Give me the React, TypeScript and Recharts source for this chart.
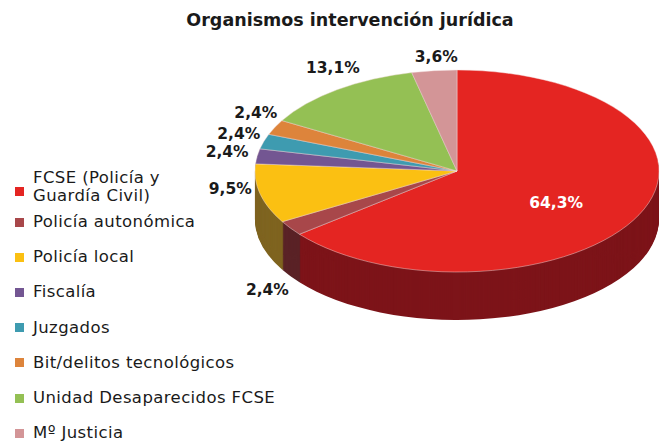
import React from 'react';
import { PieChart, Pie, Cell } from 'recharts';

const categories = [
  'FCSE (Policía y Guardía Civil)',
  'Policía autonómica',
  'Policía local',
  'Fiscalía',
  'Juzgados',
  'Bit/delitos tecnológicos',
  'Unidad Desaparecidos FCSE',
  'Mº Justicia',
];
const legendLines = [
  ['FCSE (Policía y', 'Guardía Civil)'],
  ['Policía autonómica'],
  ['Policía local'],
  ['Fiscalía'],
  ['Juzgados'],
  ['Bit/delitos tecnológicos'],
  ['Unidad Desaparecidos FCSE'],
  ['Mº Justicia'],
];
const values = [64.3, 2.4, 9.5, 2.4, 2.4, 2.4, 13.1, 3.6];
const valueLabels = ['64,3%', '2,4%', '9,5%', '2,4%', '2,4%', '2,4%', '13,1%', '3,6%'];

const topColors = ['#E42522', '#A8474A', '#FBC012', '#735692', '#3E9BB0', '#DD843B', '#94C054', '#D39597'];
const sideColors = ['#7D1419', '#5A2226', '#7F6420', '#4A3760', '#27606D', '#8A5226', '#5D7A34', '#8A5F60'];

// label placement: radial fraction, screen offsets
const labelR = [0.55, 1, 1, 1, 1, 1, 1, 1];
const labelDX = [-1, -23, -30, -30, -25, -19, -4, 2];
const labelDY = [8, 62, -5, -4, -7, -14, -22, -14];

const data = categories.map((name, i) => ({ name, value: values[i], label: valueLabels[i] }));

const K = 0.5; // vertical squash
const R = 202;
const CX = 457;
const CY = 260;
const DEPTH = 96; // unscaled
const STEP = 2;
const FONT = '"DejaVu Sans", sans-serif';

const renderLabel = (props: any) => {
  const { cx, cy, midAngle, outerRadius, index } = props;
  const rad = Math.PI / 180;
  const r = outerRadius * labelR[index];
  const x = cx + r * Math.cos(-midAngle * rad);
  const y = cy + r * Math.sin(-midAngle * rad);
  return (
    <g transform={`translate(${x},${y}) scale(1,${1 / K})`}>
      <text
        x={labelDX[index]}
        y={labelDY[index]}
        textAnchor="middle"
        dominantBaseline="central"
        fontFamily={FONT}
        fontWeight="bold"
        fontSize={15.5}
        fill={index === 0 ? '#ffffff' : '#1a1a1a'}
      >
        {valueLabels[index]}
      </text>
    </g>
  );
};

const offsets: number[] = [];
for (let d = DEPTH; d > 0; d -= STEP) offsets.push(d);

export default function App() {
  return (
    <div style={{ position: 'absolute', left: 0, top: 0, width: 667, height: 441, background: '#fff', overflow: 'hidden' }}>
      <div
        style={{
          position: 'absolute',
          left: 350,
          top: 10,
          transform: 'translateX(-50%)',
          whiteSpace: 'nowrap',
          fontFamily: FONT,
          fontWeight: 'bold',
          fontSize: 17.5,
          color: '#1a1a1a',
        }}
      >
        Organismos intervención jurídica
      </div>
      <div
        style={{
          position: 'absolute',
          left: 0,
          top: 171 - CY * K,
          width: 667,
          height: 568,
          transform: `scaleY(${K})`,
          transformOrigin: 'top left',
        }}
      >
        <PieChart width={667} height={568} margin={{ top: 0, right: 0, bottom: 0, left: 0 }} style={{ overflow: 'visible' }}>
          {offsets.map((d) => (
            <Pie
              key={'side' + d}
              data={data}
              dataKey="value"
              cx={CX}
              cy={CY + d}
              outerRadius={R}
              startAngle={90}
              endAngle={-270}
              isAnimationActive={false}
              stroke="none"
            >
              {data.map((e, i) => (
                <Cell key={i} fill={sideColors[i]} />
              ))}
            </Pie>
          ))}
          <Pie
            data={data}
            dataKey="value"
            cx={CX}
            cy={CY}
            outerRadius={R}
            startAngle={90}
            endAngle={-270}
            isAnimationActive={false}
            stroke="#f4e0e0"
            strokeWidth={0.6}
            label={renderLabel}
            labelLine={false}
          >
            {data.map((e, i) => (
              <Cell key={i} fill={topColors[i]} />
            ))}
          </Pie>
        </PieChart>
      </div>
      {legendLines.map((lines, i) => {
        const centerY = i === 0 ? 187 : 222 + (i - 1) * 35.2;
        return (
          <div
            key={i}
            style={{
              position: 'absolute',
              left: 15,
              top: centerY - (lines.length * 18) / 2,
              display: 'flex',
              alignItems: 'center',
              fontFamily: FONT,
              fontSize: 16.5,
              letterSpacing: 0.4,
              lineHeight: '18px',
              color: '#1a1a1a',
              whiteSpace: 'nowrap',
            }}
          >
            <div style={{ width: 9, height: 9, background: topColors[i], marginRight: 9, marginTop: i === 0 ? 8 : 0 }} />
            <div>
              {lines.map((l, j) => (
                <div key={j}>{l}</div>
              ))}
            </div>
          </div>
        );
      })}
    </div>
  );
}
